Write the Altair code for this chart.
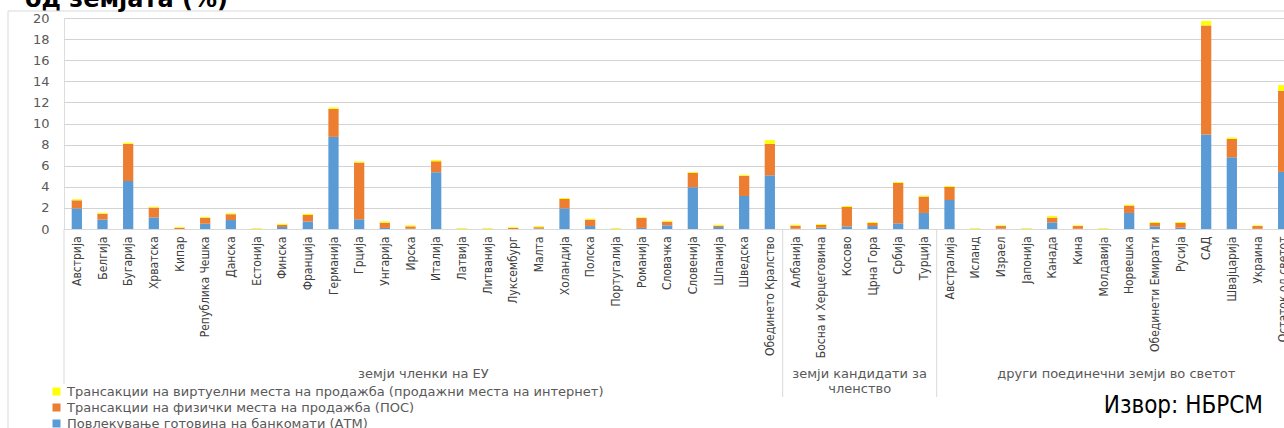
import altair as alt
import pandas as pd

countries = [
    "Австрија", "Белгија", "Бугарија", "Хрватска", "Кипар", "Република Чешка", "Данска",
    "Естонија", "Финска", "Франција", "Германија", "Грција", "Унгарија", "Ирска", "Италија",
    "Латвија", "Литванија", "Луксембург", "Малта", "Холандија", "Полска", "Португалија",
    "Романија", "Словачка", "Словенија", "Шпанија", "Шведска", "Обединето Кралство",
    "Албанија", "Босна и Херцеговина", "Косово", "Црна Гора", "Србија", "Турција",
    "Австралија", "Исланд", "Израел", "Јапонија", "Канада", "Кина", "Молдавија", "Норвешка",
    "Обединети Емирати", "Русија", "САД", "Швајцарија", "Украина", "Остаток од светот",
]

atm = [1.95, 0.90, 4.55, 1.10, 0.00, 0.50, 0.85, 0.00, 0.19, 0.70, 8.73, 0.92, 0.10, 0.03,
       5.38, 0.00, 0.00, 0.00, 0.05, 1.96, 0.28, 0.00, 0.10, 0.35, 3.96, 0.19, 3.13, 5.09,
       0.03, 0.12, 0.25, 0.28, 0.54, 1.52,
       2.75, 0.00, 0.03, 0.00, 0.63, 0.02, 0.00, 1.52, 0.25, 0.12, 8.96, 6.80, 0.02, 5.41]
pos = [0.77, 0.55, 3.50, 0.93, 0.12, 0.55, 0.55, 0.02, 0.22, 0.63, 2.66, 5.38, 0.50, 0.22,
       1.04, 0.02, 0.02, 0.10, 0.12, 0.89, 0.61, 0.02, 0.94, 0.35, 1.36, 0.13, 1.90, 2.98,
       0.29, 0.26, 1.84, 0.29, 3.83, 1.55,
       1.24, 0.02, 0.25, 0.02, 0.45, 0.26, 0.02, 0.70, 0.32, 0.45, 10.34, 1.74, 0.26, 7.69]
web = [0.10, 0.09, 0.13, 0.09, 0.08, 0.09, 0.09, 0.07, 0.09, 0.12, 0.13, 0.10, 0.12, 0.10,
       0.13, 0.08, 0.08, 0.08, 0.10, 0.09, 0.09, 0.08, 0.07, 0.09, 0.09, 0.09, 0.10, 0.35,
       0.09, 0.09, 0.09, 0.09, 0.09, 0.09,
       0.09, 0.07, 0.07, 0.07, 0.15, 0.07, 0.07, 0.09, 0.09, 0.09, 0.42, 0.13, 0.07, 0.54]

series_names = [
    "Трансакции на виртуелни места на продажба (продажни места на интернет)",
    "Трансакции на физички места на продажба (ПОС)",
    "Повлекување готовина на банкомати (АТМ)",
]
series_colors = ["#FFFF00", "#ED7D31", "#5B9BD5"]

group_names = ["земји членки на ЕУ", "земји кандидати за\nчленство", "други поединечни земји во светот"]
group_sizes = [28, 6, 14]
y_ticks = list(range(0, 21, 2))
title_text = "од земјата (%)"
source_text = "Извор: НБРСМ"

# ---- tables built from the arrays ----
rows = []
for i, c in enumerate(countries):
    for k, (s, vals) in enumerate([(series_names[2], atm), (series_names[1], pos), (series_names[0], web)]):
        rows.append({"country": c, "series": s, "value": vals[i], "stack": k})
df = pd.DataFrame(rows)

starts, s0 = [], 0
for n in group_sizes:
    starts.append(s0)
    s0 += n
gdf = pd.DataFrame({
    "label": group_names,
    "start": starts,
    "mid": [st + n / 2 for st, n in zip(starts, group_sizes)],
})
ncat = len(countries)
PLOT_W = 1232
VIEW_W = 1220
VIEW_H = 211

GRAY_TXT = "#595959"
NARROW = "DejaVu Sans Condensed, Liberation Sans Narrow, sans-serif"
SANS = "DejaVu Sans, Verdana, sans-serif"

pos_scale = alt.Scale(domain=[0, ncat], range=[0, PLOT_W], nice=False, zero=False)

bars = alt.Chart(df).mark_bar().encode(
    x=alt.X("country:N", sort=countries,
            scale=alt.Scale(paddingInner=0.6, paddingOuter=0.3, range=[0, PLOT_W]),
            axis=alt.Axis(title=None, labelAngle=-90, labelFont=NARROW, labelFontSize=12,
                          labelColor="#404040", ticks=False, tickSize=0, labelPadding=7,
                          domainColor="#D9D9D9", labelLimit=300)),
    y=alt.Y("value:Q", stack="zero",
            scale=alt.Scale(domain=[0, 20], nice=False),
            axis=alt.Axis(values=y_ticks, title=None, ticks=False, tickSize=0, domain=False,
                          labelPadding=15, labelFont=SANS, labelFontSize=13,
                          labelColor=GRAY_TXT, gridColor="#D3D3D3", gridWidth=1)),
    color=alt.Color("series:N",
                    scale=alt.Scale(domain=series_names, range=series_colors),
                    legend=alt.Legend(orient="none", legendX=-14, legendY=367, title=None,
                                      symbolType="square", symbolSize=64, symbolStrokeWidth=0,
                                      labelFont=SANS, labelFontSize=13, labelColor=GRAY_TXT,
                                      rowPadding=2, labelOffset=4, labelLimit=1000, padding=0)),
    order=alt.Order("stack:Q", sort="ascending"),
)

seps = alt.Chart(gdf[gdf["start"] > 0]).mark_rule(color="#D9D9D9", strokeWidth=1).encode(
    x=alt.X("start:Q", scale=pos_scale, axis=None),
    y=alt.value(VIEW_H), y2=alt.value(379),
)
left_sep = alt.Chart(gdf[gdf["start"] == 0]).mark_rule(color="#D9D9D9", strokeWidth=1).encode(
    x=alt.X("start:Q", scale=pos_scale, axis=None),
    y=alt.value(VIEW_H), y2=alt.value(366),
)
glabels = alt.Chart(gdf).mark_text(font=SANS, fontSize=13, color=GRAY_TXT, align="center",
                                   baseline="top", lineBreak="\n", lineHeight=15).encode(
    x=alt.X("mid:Q", scale=pos_scale, axis=None),
    y=alt.value(350),
    text="label:N",
)

one = pd.DataFrame({"t": [title_text], "s": [source_text]})
frame_top = alt.Chart(one).mark_rule(color="#D9D9D9").encode(
    x=alt.value(-56), x2=alt.value(VIEW_W), y=alt.value(-7))
frame_left = alt.Chart(one).mark_rule(color="#D9D9D9").encode(
    x=alt.value(-56), y=alt.value(-7), y2=alt.value(420))
title = alt.Chart(one).mark_text(align="left", baseline="alphabetic", font=SANS,
                                 fontWeight="bold", fontSize=24, color="black").encode(
    x=alt.value(-39), y=alt.value(-11), text="t:N")
source = alt.Chart(one).mark_text(align="right", baseline="alphabetic",
                                  font="DejaVu Sans Condensed, Liberation Sans, sans-serif",
                                  fontSize=24, color="black").encode(
    x=alt.value(1199), y=alt.value(395), text="s:N")

chart = alt.layer(
    frame_top, frame_left, bars, seps, left_sep, glabels, title, source
).resolve_scale(x="independent").properties(
    width=VIEW_W, height=VIEW_H,
    autosize=alt.AutoSizeParams(type="none"),
    padding={"left": 64, "top": 18, "right": 0, "bottom": 199},
).configure_view(fill="#E4E4E4", stroke=None).configure(background="white")

chart.save("out.html", embed_options={"renderer": "svg", "actions": False})
